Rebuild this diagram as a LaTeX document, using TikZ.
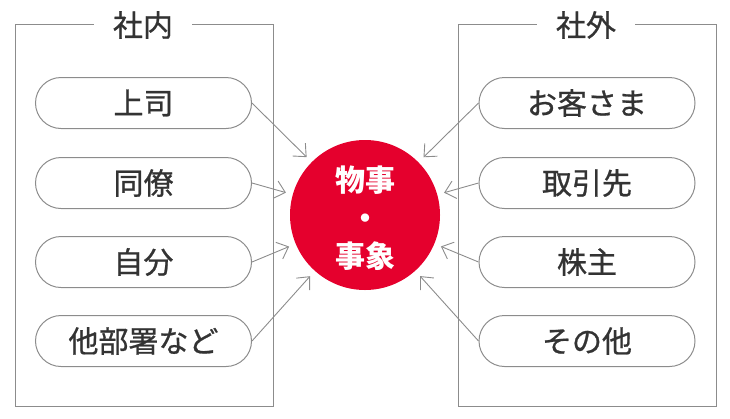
\documentclass[tikz,border=0pt]{standalone}
\usepackage{fontspec}
\setmainfont{Noto Sans CJK JP}
\newfontfamily\medfont[FakeBold=0.8]{Noto Sans CJK JP}
\usetikzlibrary{arrows.meta}
\definecolor{txt}{HTML}{333333}
\definecolor{ln}{HTML}{8C8C8C}
\definecolor{red}{HTML}{E5002D}
\begin{document}
\begin{tikzpicture}[x=1pt,y=-1pt,
  frame/.style={draw=ln, line width=1pt},
  title/.style={fill=white, inner xsep=19pt, inner ysep=2pt, text=txt, font=\medfont\fontsize{30}{34}\selectfont},
  pill/.style={draw=ln, line width=1pt, rounded corners=25.5pt, minimum width=216pt, minimum height=51pt, text=txt, font=\medfont\fontsize{30}{34}\selectfont, inner sep=0pt},
  arr/.style={draw=ln, line width=0.9pt, -{Straight Barb[length=10pt,width=18pt]}, shorten >=7pt}]
\useasboundingbox (0,0) rectangle (730,418);
\draw[frame] (15,24) rectangle (273,406);
\draw[frame] (458,24) rectangle (716,406);
\node[title] (tin) at (143,25) {社内};
\node[title] (tout) at (586,25) {社外};
\node[circle, fill=red, minimum size=150pt, inner sep=0pt] (c) at (365,215) {};
\node[text=white, align=center, font=\bfseries\fontsize{30}{38}\selectfont] (ct) at (365,218) {物事\\・\\事象};
\node[pill] (l1) at (143.5,103) {上司};
\node[pill] (l2) at (143.5,183) {同僚};
\node[pill] (l3) at (143.5,262) {自分};
\node[pill] (l4) at (143.5,341) {他部署など};
\node[pill] (r1) at (587,103) {お客さま};
\node[pill] (r2) at (587,183) {取引先};
\node[pill] (r3) at (587,262) {株主};
\node[pill] (r4) at (587,341) {その他};
\draw[arr] (l1.east) -- (c);
\draw[arr] (l2.east) -- (c);
\draw[arr] (l3.east) -- (c);
\draw[arr] (l4.east) -- (c);
\draw[arr] (r1.west) -- (c);
\draw[arr] (r2.west) -- (c);
\draw[arr] (r3.west) -- (c);
\draw[arr] (r4.west) -- (c);
\end{tikzpicture}
\end{document}
